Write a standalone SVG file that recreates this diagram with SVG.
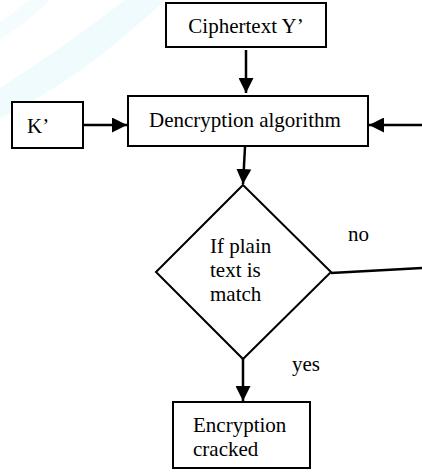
<svg xmlns="http://www.w3.org/2000/svg" width="422" height="474" viewBox="0 0 422 474">
<style>
.box{fill:#fff;stroke:#000;stroke-width:2}
.t{font-family:"Liberation Serif","Times New Roman",serif;font-size:21px;fill:#000}
.c{stroke:#000;stroke-width:2.5;fill:none}
</style>
<defs>
<marker id="ah" viewBox="0 0 10 10" refX="10" refY="5" markerWidth="6" markerHeight="6" markerUnits="strokeWidth" orient="auto">
<path d="M0,0 L10,5 L0,10 Z" fill="#000"/>
</marker>
</defs>
<rect width="422" height="474" fill="#fff"/>
<g id="watermark">
<path d="M0,118 Q80,80 165,0 L125,0 Q60,50 0,88 Z" fill="#effbfc"/>
<path d="M0,40 Q30,20 50,0 L30,0 Q15,12 0,22 Z" fill="#f4fcfd"/>
</g>
<g id="connectors">
<line class="c" x1="246" y1="50" x2="246" y2="93" marker-end="url(#ah)"/>
<line class="c" x1="84" y1="125" x2="127" y2="125" marker-end="url(#ah)"/>
<line class="c" x1="422" y1="125" x2="369" y2="125" marker-end="url(#ah)"/>
<line class="c" x1="245" y1="147" x2="243" y2="184" marker-end="url(#ah)"/>
<line class="c" x1="331" y1="273" x2="422" y2="268"/>
<line class="c" x1="243" y1="359" x2="243" y2="401" marker-end="url(#ah)"/>
<text class="t" x="348" y="241">no</text>
<text class="t" x="292" y="371">yes</text>
</g>
<g id="ciphertext">
<rect class="box" x="166" y="3" width="160" height="44"/>
<text class="t" x="246" y="33" text-anchor="middle">Ciphertext Y’</text>
</g>
<g id="key">
<rect class="box" x="12" y="102" width="71" height="46"/>
<text class="t" x="27" y="133">K’</text>
</g>
<g id="decrypt">
<rect class="box" x="128" y="96" width="240" height="50"/>
<text class="t" x="149" y="127">Dencryption algorithm</text>
</g>
<g id="decision">
<polygon points="243,185 331,272 243,359 156,272" fill="#fff" stroke="#000" stroke-width="2"/>
<text class="t" x="210" y="253">If plain</text>
<text class="t" x="210" y="277">text is</text>
<text class="t" x="210" y="301">match</text>
</g>
<g id="cracked">
<rect class="box" x="173" y="402" width="137" height="66"/>
<text class="t" x="193" y="432">Encryption</text>
<text class="t" x="193" y="456">cracked</text>
</g>
</svg>
